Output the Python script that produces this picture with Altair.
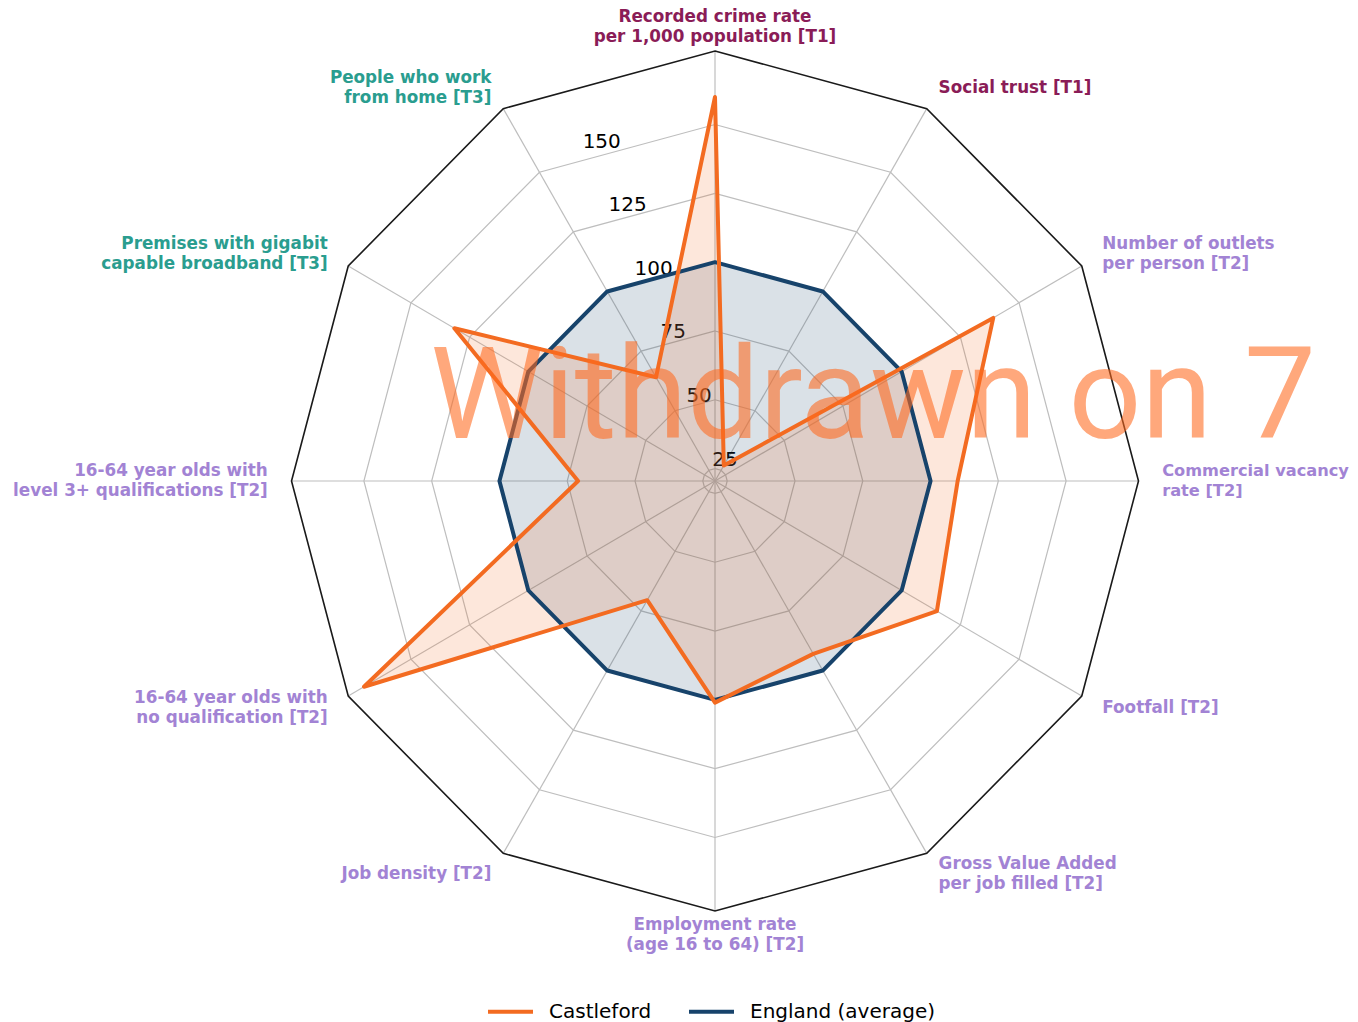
import altair as alt
import pandas as pd

# ---------------- data ----------------
categories = [
    "Recorded crime rate\nper 1,000 population [T1]",
    "Social trust [T1]",
    "Number of outlets\nper person [T2]",
    "Commercial vacancy\nrate [T2]",
    "Footfall [T2]",
    "Gross Value Added\nper job filled [T2]",
    "Employment rate\n(age 16 to 64) [T2]",
    "Job density [T2]",
    "16-64 year olds with\nno qualification [T2]",
    "16-64 year olds with\nlevel 3+ qualifications [T2]",
    "Premises with gigabit\ncapable broadband [T3]",
    "People who work\nfrom home [T3]",
]
tiers = ["T1", "T1", "T2", "T2", "T2", "T2", "T2", "T2", "T2", "T2", "T3", "T3"]
castleford = [160, 27, 139, 110, 115, 93, 101, 70.5, 170, 71, 131.5, 64]
england = [100, 100, 100, 100, 100, 100, 100, 100, 100, 100, 100, 100]
ring_ticks = [25, 50, 75, 100, 125, 150]
series_names = ["Castleford", "England (average)"]
watermark_text = ["Withdrawn on 7"]

# ---------------- styling / geometry ----------------
N = len(categories)
RMIN, RMAX = 20.5, 176.7
W, H = 1342, 1014
CX, CY = 707, 473
PX_X, PX_Y = 423.5, 430.0
XDOM = [-CX / PX_X, (W - CX) / PX_X]
YDOM = [-(H - CY) / PX_Y, CY / PX_Y]

ORANGE = "#F36B21"
NAVY = "#17436B"
GRID = "#BEBEBE"
FRAME = "#1A1A1A"
TIER_COLORS = {"T1": "#8A1C57", "T2": "#A283D4", "T3": "#2A9D8F"}
FONT = "DejaVu Sans"
LINE_H = 20
LABEL_SIZE = 16.8

xs = alt.Scale(domain=XDOM, nice=False, zero=False)
ys = alt.Scale(domain=YDOM, nice=False, zero=False)


def X(f):
    return alt.X(f, type="quantitative", scale=xs, axis=None)


def Y(f):
    return alt.Y(f, type="quantitative", scale=ys, axis=None)


def polar(df, theta_expr=f"2 * PI * datum.idx / {N}", r_expr=None):
    if r_expr is None:
        r_expr = f"(datum.value - {RMIN}) / {RMAX - RMIN}"
    return (
        alt.Chart(df)
        .transform_calculate(theta=theta_expr, r=r_expr)
        .transform_calculate(
            px="datum.r * sin(datum.theta)",
            py="datum.r * cos(datum.theta)",
            zero="0",
        )
    )


# data frames built from arrays
ring_df = pd.DataFrame(
    [{"ring": v, "idx": i, "value": v} for v in ring_ticks for i in range(N)]
)
outer_df = pd.DataFrame([{"ring": RMAX, "idx": i, "value": RMAX} for i in range(N)])
series_df = pd.DataFrame(
    {
        "idx": list(range(N)) * 2,
        "series": [series_names[0]] * N + [series_names[1]] * N,
        "value": castleford + england,
    }
)
tick_df = pd.DataFrame({"value": ring_ticks, "label": [str(v) for v in ring_ticks]})
cat_df = pd.DataFrame({"idx": list(range(N)), "category": categories, "tier": tiers})
wm_df = pd.DataFrame({"t": watermark_text})

# ---------------- layers ----------------
rings = polar(ring_df).mark_line(
    interpolate="linear-closed", stroke=GRID, strokeWidth=1.2
).encode(x=X("px"), y=Y("py"), detail="ring:N", order="idx:Q")

spokes = polar(outer_df).mark_rule(stroke=GRID, strokeWidth=1.2).encode(
    x=X("zero"), y=Y("zero"), x2="px:Q", y2="py:Q"
)

outer = polar(outer_df).mark_line(
    interpolate="linear-closed", stroke=FRAME, strokeWidth=1.6
).encode(x=X("px"), y=Y("py"), order="idx:Q")

ticks = polar(tick_df, theta_expr="-PI / 8").mark_text(
    align="left", baseline="bottom", dx=2, font=FONT, fontSize=20, fill="black"
).encode(x=X("px"), y=Y("py"), text="label:N")

color_scale = alt.Scale(domain=series_names, range=[ORANGE, NAVY])
legend = alt.Legend(
    title=None,
    orient="none",
    legendX=478,
    legendY=979,
    direction="horizontal",
    symbolType="stroke",
    symbolStrokeWidth=4,
    symbolSize=2025,
    labelFont=FONT,
    labelFontSize=20,
    labelColor="black",
    labelOffset=14,
    labelLimit=0,
    columnPadding=29,
)


def fill_layer(name, col):
    return (
        polar(series_df)
        .transform_filter(f"datum.series == '{name}'")
        .mark_line(
            interpolate="linear-closed",
            fill=col,
            fillOpacity=0.16,
            strokeOpacity=0,
        )
        .encode(x=X("px"), y=Y("py"), order="idx:Q")
    )


def stroke_layer(name):
    return (
        polar(series_df)
        .transform_filter(f"datum.series == '{name}'")
        .mark_line(interpolate="linear-closed", strokeWidth=4, strokeJoin="round")
        .encode(
            x=X("px"),
            y=Y("py"),
            order="idx:Q",
            color=alt.Color("series:N", scale=color_scale, legend=legend),
        )
    )


fill_eng = fill_layer(series_names[1], NAVY)
fill_cas = fill_layer(series_names[0], ORANGE)
line_eng = stroke_layer(series_names[1])
line_cas = stroke_layer(series_names[0])

tier_fill = alt.Fill(
    "tier:N",
    scale=alt.Scale(domain=list(TIER_COLORS.keys()), range=list(TIER_COLORS.values())),
    legend=None,
)

MULTI = "indexof(datum.category, '\\n') >= 0"
SINGLE = "indexof(datum.category, '\\n') < 0"


def label_layer(filter_expr, r_norm, align, baseline, dy=0, size=LABEL_SIZE):
    return (
        polar(cat_df, r_expr=str(r_norm))
        .transform_filter(filter_expr)
        .mark_text(
            align=align,
            baseline=baseline,
            dy=dy,
            font=FONT,
            fontWeight="bold",
            fontSize=size,
            lineBreak="\n",
            lineHeight=LINE_H,
        )
        .encode(x=X("px"), y=Y("py"), text="category:N", fill=tier_fill)
    )


lab_top = label_layer("datum.idx == 0", 1.012, "center", "bottom", -LINE_H)
lab_bot = label_layer("datum.idx == 6", 1.014, "center", "top")
lab_right_1 = label_layer(
    f"datum.idx > 0 && datum.idx < 6 && {SINGLE}", 1.056, "left", "middle"
)
lab_right_2 = label_layer(
    f"datum.idx > 0 && datum.idx < 6 && datum.idx != 3 && {MULTI}",
    1.056, "left", "middle", -LINE_H / 2,
)
# the east label sits at the page edge: a hair smaller so it is not clipped
lab_east = label_layer("datum.idx == 3", 1.056, "left", "middle", -LINE_H / 2, 16.2)
lab_left_1 = label_layer(f"datum.idx > 6 && {SINGLE}", 1.056, "right", "middle")
lab_left_2 = label_layer(
    f"datum.idx > 6 && {MULTI}", 1.056, "right", "middle", -LINE_H / 2
)

wm = alt.Chart(wm_df).mark_text(
    font="Roboto",
    fontSize=128,
    fill="#FF6A1F",
    opacity=0.58,
    align="center",
    baseline="alphabetic",
).encode(x=alt.value(865), y=alt.value(430), text="t:N")

chart = (
    alt.layer(
        rings,
        spokes,
        outer,
        ticks,
        fill_eng,
        fill_cas,
        line_eng,
        line_cas,
        lab_top,
        lab_bot,
        lab_right_1,
        lab_right_2,
        lab_east,
        lab_left_1,
        lab_left_2,
        wm,
    )
    .properties(width=W, height=H, padding=0, autosize="none", background="white")
    .configure_view(stroke=None)
)

chart.save("out.html", embed_options={"renderer": "svg", "actions": False})
